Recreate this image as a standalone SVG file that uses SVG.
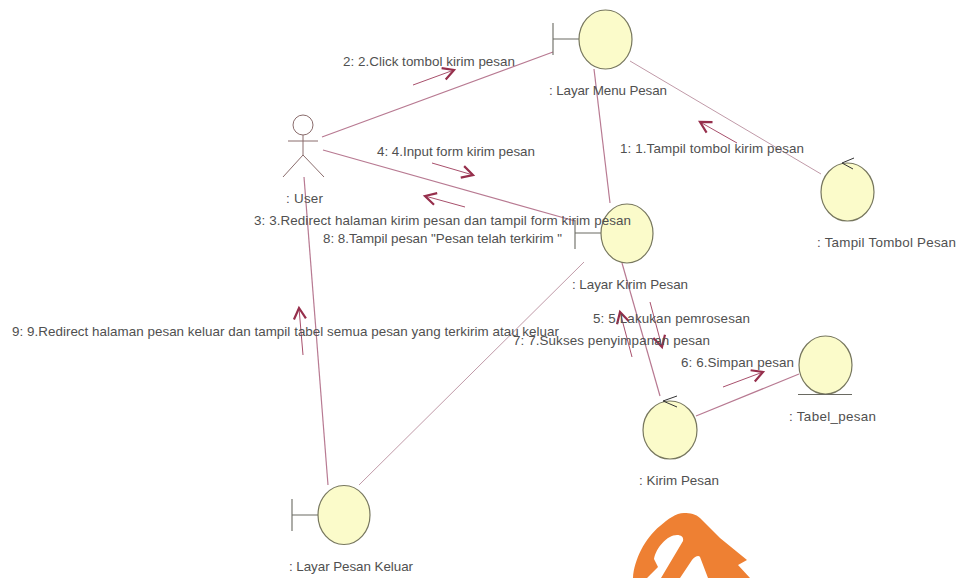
<svg xmlns="http://www.w3.org/2000/svg" width="958" height="578" viewBox="0 0 958 578">
<style>
.bg{fill:#fff}
.link{fill:none;stroke:#b87a92;stroke-width:1.2}
.thin{fill:none;stroke:#c09aa8;stroke-width:1}
.msg{fill:none;stroke:#a8506c;stroke-width:1;marker-end:url(#open)}
.obj{fill:#fbfbca;stroke:#77775e;stroke-width:1.2}
.sym{fill:none;stroke:#6a6a62;stroke-width:1.1}
.actor{fill:none;stroke:#8a6c6c;stroke-width:1}
.dark{fill:none;stroke:#333;stroke-width:1}
text{font-family:"Liberation Sans",Arial,sans-serif;font-size:13.4px;fill:#505050}
</style>
<defs>
<marker id="open" markerUnits="userSpaceOnUse" markerWidth="20" markerHeight="20" refX="15" refY="10" orient="auto">
<path d="M4,4 L15,10 L4,16" fill="none" stroke="#962f4c" stroke-width="2.2"/>
</marker>
</defs>
<rect class="bg" width="958" height="578"/>
<path id="logo" fill="#ee8033" fill-rule="evenodd" d="M633,578 C634,560 645,538 660,526 C668,519 676,513 684,513 C690,513 696,514 700,518 L720,538 L747,560 L738,565 L750,578 Z M647,578 L658,567 L654,559 C656,548 667,535 677,535 C681,535 684,537 683,541 L661,578 Z M680,578 L692,560 C695,556 699,555 700,557 L708,578 Z"/>
<g id="connectors">
<path class="link" d="M322,137 L553,52"/>
<path class="link" d="M323,150 L575,221"/>
<path class="link" d="M594,69 L610,203"/>
<path class="thin" d="M630,61 L821,174"/>
<path class="link" d="M622,263 L660,396"/>
<path class="link" d="M696,416 L799,374"/>
<path class="link" d="M304,177 L328,485"/>
<path class="thin" d="M359,485 L584,262"/>
<path class="msg" d="M413,85 L454,70"/>
<path class="msg" d="M432,163 L473,175"/>
<path class="msg" d="M465,207 L425,196"/>
<path class="msg" d="M737,143 L700,122"/>
<path class="msg" d="M650,302 L662,347"/>
<path class="msg" d="M632,357 L620,312"/>
<path class="msg" d="M723,387 L763,372"/>
<path class="msg" d="M303,355 L299,308"/>
</g>
<g id="user">
<circle class="actor" cx="303" cy="125" r="10"/>
<path class="actor" d="M303,135 V155 M288,141 H318 M303,155 L283,177 M303,155 L324,177"/>
<text x="286" y="203" textLength="37">: User</text>
</g>
<g id="layar-menu-pesan">
<path class="sym" d="M553,23 V55 M553,39 H579"/>
<ellipse class="obj" cx="605.5" cy="39.5" rx="26.5" ry="29.5"/>
<text x="549" y="95" textLength="118">: Layar Menu Pesan</text>
</g>
<g id="tampil-tombol-pesan">
<ellipse class="obj" cx="847.5" cy="192" rx="26.5" ry="29"/>
<path class="dark" d="M854,158 L842,163 L853,169"/>
<text x="817" y="247" textLength="139">: Tampil Tombol Pesan</text>
</g>
<g id="layar-kirim-pesan">
<path class="sym" d="M575,220 V249 M575,233 H601"/>
<ellipse class="obj" cx="627" cy="233.5" rx="26" ry="29.5"/>
<text x="572" y="289" textLength="116">: Layar Kirim Pesan</text>
</g>
<g id="kirim-pesan">
<ellipse class="obj" cx="670" cy="430" rx="27" ry="29"/>
<path class="dark" d="M677,396 L663,401 L677,407"/>
<text x="639" y="485" textLength="80">: Kirim Pesan</text>
</g>
<g id="tabel-pesan">
<ellipse class="obj" cx="825.5" cy="365" rx="26.5" ry="29"/>
<path class="sym" d="M798,394.5 H852"/>
<text x="789" y="421" textLength="87">: Tabel_pesan</text>
</g>
<g id="layar-pesan-keluar">
<path class="sym" d="M292,499 V531 M292,515 H318"/>
<ellipse class="obj" cx="344" cy="515" rx="26" ry="29.5"/>
<text x="289" y="571" textLength="124">: Layar Pesan Keluar</text>
</g>
<g id="message-labels">
<text x="343" y="66" textLength="172">2: 2.Click tombol kirim pesan</text>
<text x="377" y="156" textLength="158">4: 4.Input form kirim pesan</text>
<text x="254" y="225" textLength="377">3: 3.Redirect halaman kirim pesan dan tampil form kirim pesan</text>
<text x="323" y="243" textLength="239">8: 8.Tampil pesan "Pesan telah terkirim "</text>
<text x="620" y="153" textLength="184">1: 1.Tampil tombol kirim pesan</text>
<text x="593" y="323" textLength="157">5: 5.Lakukan pemrosesan</text>
<text x="513" y="345" textLength="197">7: 7.Sukses penyimpanan pesan</text>
<text x="681" y="367" textLength="113">6: 6.Simpan pesan</text>
<text x="12" y="336" textLength="547">9: 9.Redirect halaman pesan keluar dan tampil tabel semua pesan yang terkirim atau keluar</text>
</g>
</svg>
